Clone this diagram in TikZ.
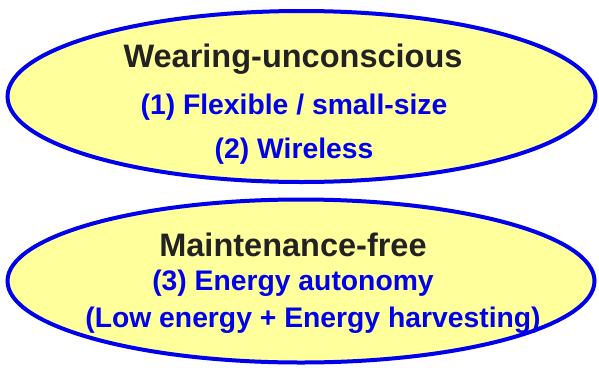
\documentclass[tikz,border=0pt]{standalone}
\usepackage{fontspec}
\setmainfont{Liberation Sans}
\usepackage{tikz}
\usetikzlibrary{shapes,shapes.geometric,positioning}
\definecolor{elbleu}{RGB}{0,0,235}
\definecolor{eljaune}{RGB}{255,255,155}
\definecolor{elnoir}{RGB}{34,34,34}

\begin{document}
\begin{tikzpicture}[x=1pt,y=1pt,
  bulle/.style={ellipse, draw=elbleu, fill=eljaune, line width=4pt, inner sep=0pt},
  titre/.style={anchor=base, text=elnoir, font=\fontsize{32.5}{34}\selectfont\bfseries},
  item/.style={anchor=base, text=elbleu, font=\fontsize{28.3}{30}\selectfont\bfseries}
]
  \useasboundingbox (0,0) rectangle (599,-367);

  % Upper ellipse
  \node[bulle, minimum width=588pt, minimum height=171pt] (haut) at (301.5,-96.5) {};
  \node[titre] (wearing)  at (293,-67)  {Wearing-unconscious};
  \node[item]  (flexible) at (294,-114) {(1) Flexible / small-size};
  \node[item]  (wireless) at (294,-158) {(2) Wireless};

  % Lower ellipse
  \node[bulle, minimum width=587pt, minimum height=163pt] (bas) at (301,-281) {};
  \node[titre] (maint)    at (293,-256) {Maintenance-free};
  \node[item]  (autonomy) at (293,-290) {(3) Energy autonomy};
  \node[item]  (harvest)  at (313,-327) {(Low energy + Energy harvesting)};
\end{tikzpicture}
\end{document}
